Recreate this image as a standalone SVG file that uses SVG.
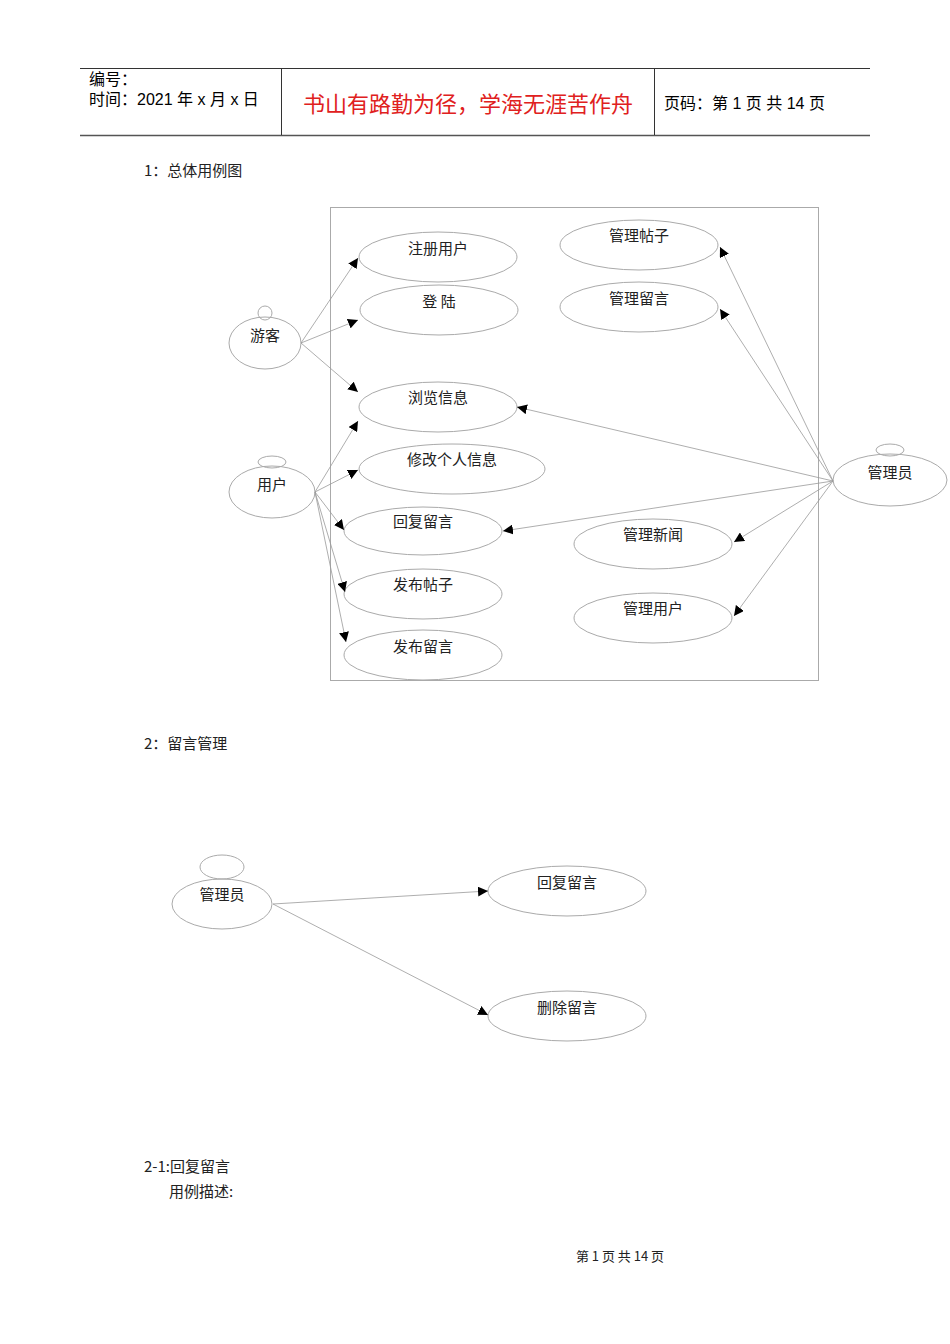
<svg xmlns="http://www.w3.org/2000/svg" width="950" height="1344" viewBox="0 0 950 1344">
<defs>
<marker id="a" viewBox="0 0 10 10" refX="10" refY="5" markerWidth="10" markerHeight="10" markerUnits="userSpaceOnUse" orient="auto"><path d="M0,0L10,5L0,10z" fill="#000"/></marker>
<style>
.e{fill:none;stroke:#aaa;stroke-width:1}
.t{font-family:"Noto Sans CJK SC","Liberation Serif",serif;font-size:15px;fill:#222;text-anchor:middle}
.l{font-family:"Noto Sans CJK SC","Liberation Serif",serif;font-size:15px;fill:#222}
.h{font-family:"Liberation Sans","Noto Sans CJK SC",sans-serif;font-size:16px;fill:#000}
.c line{stroke:#999;stroke-width:0.8;marker-end:url(#a)}
</style>
</defs>
<rect width="950" height="1344" fill="#fff"/>
<g id="header">
<line x1="80" y1="68.500" x2="870" y2="68.500" stroke="#333"/>
<line x1="80" y1="135.500" x2="870" y2="135.500" stroke="#555" stroke-width="1.500"/>
<line x1="281.500" y1="68" x2="281.500" y2="135" stroke="#333"/>
<line x1="654.500" y1="68" x2="654.500" y2="135" stroke="#333"/>
<text class="h" x="89" y="85">编号：</text>
<text class="h" x="89" y="105">时间：2021 年 x 月 x 日</text>
<text x="468" y="112" font-family="Noto Sans CJK SC,sans-serif" font-size="22" fill="#e02020" text-anchor="middle">书山有路勤为径，学海无涯苦作舟</text>
<text class="h" x="664" y="109">页码：第 1 页  共 14 页</text>
</g>
<text class="l" x="144" y="176">1：总体用例图</text>
<rect x="330.500" y="207.500" width="488" height="473" fill="none" stroke="#aaa"/>
<g id="guest"><circle class="e" cx="265" cy="313" r="7"/><ellipse class="e" cx="265" cy="343" rx="36" ry="26"/><text class="t" x="265" y="341">游客</text></g>
<g id="user"><ellipse class="e" cx="272" cy="462" rx="14" ry="6"/><ellipse class="e" cx="272" cy="492" rx="43" ry="26"/><text class="t" x="272" y="490">用户</text></g>
<g id="admin"><ellipse class="e" cx="890" cy="450" rx="14" ry="6"/><ellipse class="e" cx="890" cy="480" rx="57" ry="26"/><text class="t" x="890" y="478">管理员</text></g>
<g id="uc1"><ellipse class="e" cx="438" cy="257" rx="79" ry="25"/><text class="t" x="438" y="254">注册用户</text></g>
<g id="uc2"><ellipse class="e" cx="439" cy="310" rx="79" ry="25"/><text class="t" x="439" y="307">登  陆</text></g>
<g id="uc3"><ellipse class="e" cx="438" cy="407" rx="79" ry="25"/><text class="t" x="438" y="403">浏览信息</text></g>
<g id="uc4"><ellipse class="e" cx="452" cy="469" rx="93" ry="25"/><text class="t" x="452" y="465">修改个人信息</text></g>
<g id="uc5"><ellipse class="e" cx="423" cy="531" rx="79" ry="24"/><text class="t" x="423" y="527">回复留言</text></g>
<g id="uc6"><ellipse class="e" cx="423" cy="594" rx="79" ry="25"/><text class="t" x="423" y="590">发布帖子</text></g>
<g id="uc7"><ellipse class="e" cx="423" cy="655" rx="79" ry="25"/><text class="t" x="423" y="652">发布留言</text></g>
<g id="uc8"><ellipse class="e" cx="639" cy="245" rx="79" ry="25"/><text class="t" x="639" y="241">管理帖子</text></g>
<g id="uc9"><ellipse class="e" cx="639" cy="307" rx="79" ry="25"/><text class="t" x="639" y="304">管理留言</text></g>
<g id="uc10"><ellipse class="e" cx="653" cy="544" rx="79" ry="25"/><text class="t" x="653" y="540">管理新闻</text></g>
<g id="uc11"><ellipse class="e" cx="653" cy="618" rx="79" ry="25"/><text class="t" x="653" y="614">管理用户</text></g>
<text class="l" x="144" y="749">2：留言管理</text>
<g id="admin2"><ellipse class="e" cx="222" cy="867" rx="22" ry="12"/><ellipse class="e" cx="222" cy="904" rx="50" ry="25"/><text class="t" x="222" y="900">管理员</text></g>
<g id="r1"><ellipse class="e" cx="567" cy="891" rx="79" ry="25"/><text class="t" x="567" y="888">回复留言</text></g>
<g id="r2"><ellipse class="e" cx="567" cy="1016" rx="79" ry="25"/><text class="t" x="567" y="1013">删除留言</text></g>
<g class="c" id="connectors">
<line x1="301" y1="343" x2="358" y2="258"/>
<line x1="301" y1="343" x2="358" y2="320"/>
<line x1="301" y1="343" x2="358" y2="392"/>
<line x1="315" y1="492" x2="358" y2="421"/>
<line x1="315" y1="492" x2="358" y2="470"/>
<line x1="315" y1="492" x2="344" y2="530"/>
<line x1="315" y1="492" x2="345" y2="592"/>
<line x1="315" y1="492" x2="346" y2="642"/>
<line x1="833" y1="481" x2="720" y2="247"/>
<line x1="833" y1="481" x2="720" y2="309"/>
<line x1="833" y1="481" x2="517" y2="407"/>
<line x1="833" y1="481" x2="503" y2="531"/>
<line x1="833" y1="481" x2="734" y2="542"/>
<line x1="833" y1="481" x2="734" y2="616"/>
<line x1="273" y1="904" x2="488" y2="891"/>
<line x1="273" y1="904" x2="488" y2="1015"/>
</g>
<text class="l" x="144" y="1172">2-1:回复留言</text>
<text class="l" x="169" y="1197">用例描述:</text>
<text class="t" x="620" y="1261" style="font-size:13px">第 1 页 共 14 页</text>
</svg>
